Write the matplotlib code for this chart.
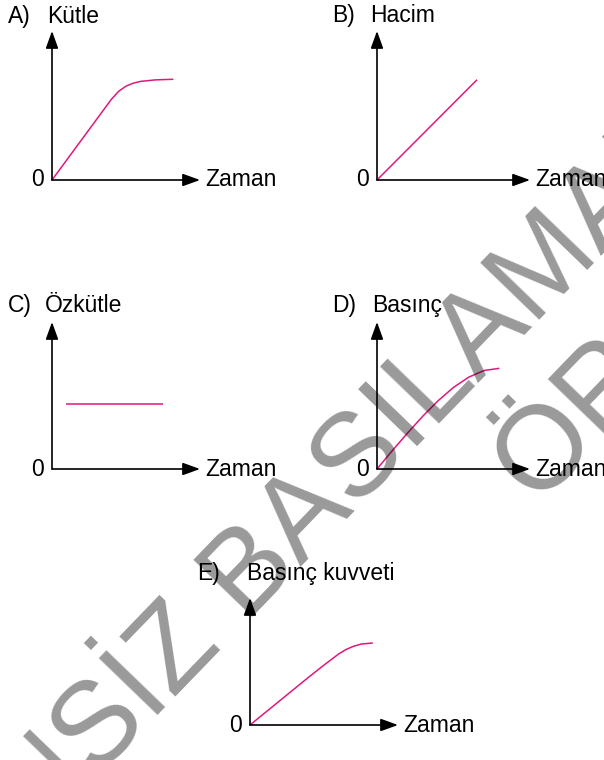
import matplotlib
matplotlib.use("Agg")
import matplotlib.pyplot as plt

plt.rcParams['font.family'] = ['Liberation Sans', 'DejaVu Sans']

W, H = 604, 760
PINK = '#e0187c'

# curves (time, value), axes run 0..10 in both directions
a_t = [0, 1, 2, 3, 4, 4.5, 5, 5.5, 6, 7, 8.2]
a_v = [0, 1.35, 2.7, 4.05, 5.4, 5.95, 6.3, 6.5, 6.62, 6.72, 6.76]

b_t = [0, 6.54]
b_v = [0, 6.73]

c_t = [0.95, 7.5]
c_v = [4.42, 4.42]

d_t = [0, 1, 2, 3, 4, 5, 6, 7, 8]
d_v = [0, 1.25, 2.45, 3.6, 4.65, 5.55, 6.25, 6.7, 6.85]

e_t = [0, 1, 2, 3, 4, 5, 6, 6.5, 7, 7.5, 8.3]
e_v = [0, 0.95, 1.9, 2.85, 3.8, 4.72, 5.6, 5.95, 6.2, 6.37, 6.46]

letters = ['A)', 'B)', 'C)', 'D)', 'E)']
titles = ['Kütle', 'Hacim', 'Özkütle', 'Basınç', 'Basınç kuvveti']
xlabel = 'Zaman'

# panel boxes in pixels: origin x, origin y, arrow tip x, arrow tip y
boxes = [(52, 180, 200, 31), (377, 180, 530, 31), (52, 469, 200, 322),
         (377, 469, 530, 322), (250, 725, 398, 598)]
# title positions: letter x, word x, baseline y
title_pos = [(8, 47, 23), (332, 370, 22), (8, 45, 312), (332, 372, 312), (197, 247, 580)]
curves = [(a_t, a_v), (b_t, b_v), (c_t, c_v), (d_t, d_v), (e_t, e_v)]

fig = plt.figure(figsize=(W / 100, H / 100), dpi=100)


def fx(x):
    return x / W


def fy(y):
    return 1 - y / H


for (ox, oy, tx, ty), (lx, wx, by), let, tit, (t, v) in zip(boxes, title_pos, letters, titles, curves):
    ax = fig.add_axes([fx(ox), fy(oy), (tx - ox) / W, (oy - ty) / H])
    ax.set_xlim(0, 10)
    ax.set_ylim(0, 10)
    ax.axis('off')
    ax.plot(t, v, color=PINK, lw=1.1, clip_on=False, solid_capstyle='butt')
    arrow = dict(arrowstyle='-|>,head_length=1.05,head_width=0.38', lw=1.2,
                 color='black', shrinkA=0, shrinkB=0, mutation_scale=10)
    ax.annotate('', xy=(1, 0), xytext=(0, 0), xycoords='axes fraction', arrowprops=arrow)
    ax.annotate('', xy=(0, 1), xytext=(0, 0), xycoords='axes fraction', arrowprops=arrow)

    fig.text(fx(ox - 8), fy(oy), '0', ha='right', va='center', fontsize=16.5)
    fig.text(fx(tx + 5), fy(oy), xlabel, ha='left', va='center', fontsize=16.5)
    fig.text(fx(lx), fy(by), let, ha='left', va='baseline', fontsize=16.5)
    fig.text(fx(wx), fy(by), tit, ha='left', va='baseline', fontsize=16.5)

# watermark over the page
fig.text(fx(324), fy(543), 'İZİNSİZ BASILAMAZ', ha='center', va='baseline',
         rotation=46, rotation_mode='anchor', fontsize=85, color='black',
         alpha=0.4, zorder=10)
fig.text(fx(536), fy(504), 'ÖRNEKTİR', ha='left', va='baseline',
         rotation=46, rotation_mode='anchor', fontsize=85, color='black',
         alpha=0.4, zorder=10)

fig.savefig('out.png', dpi=100)
